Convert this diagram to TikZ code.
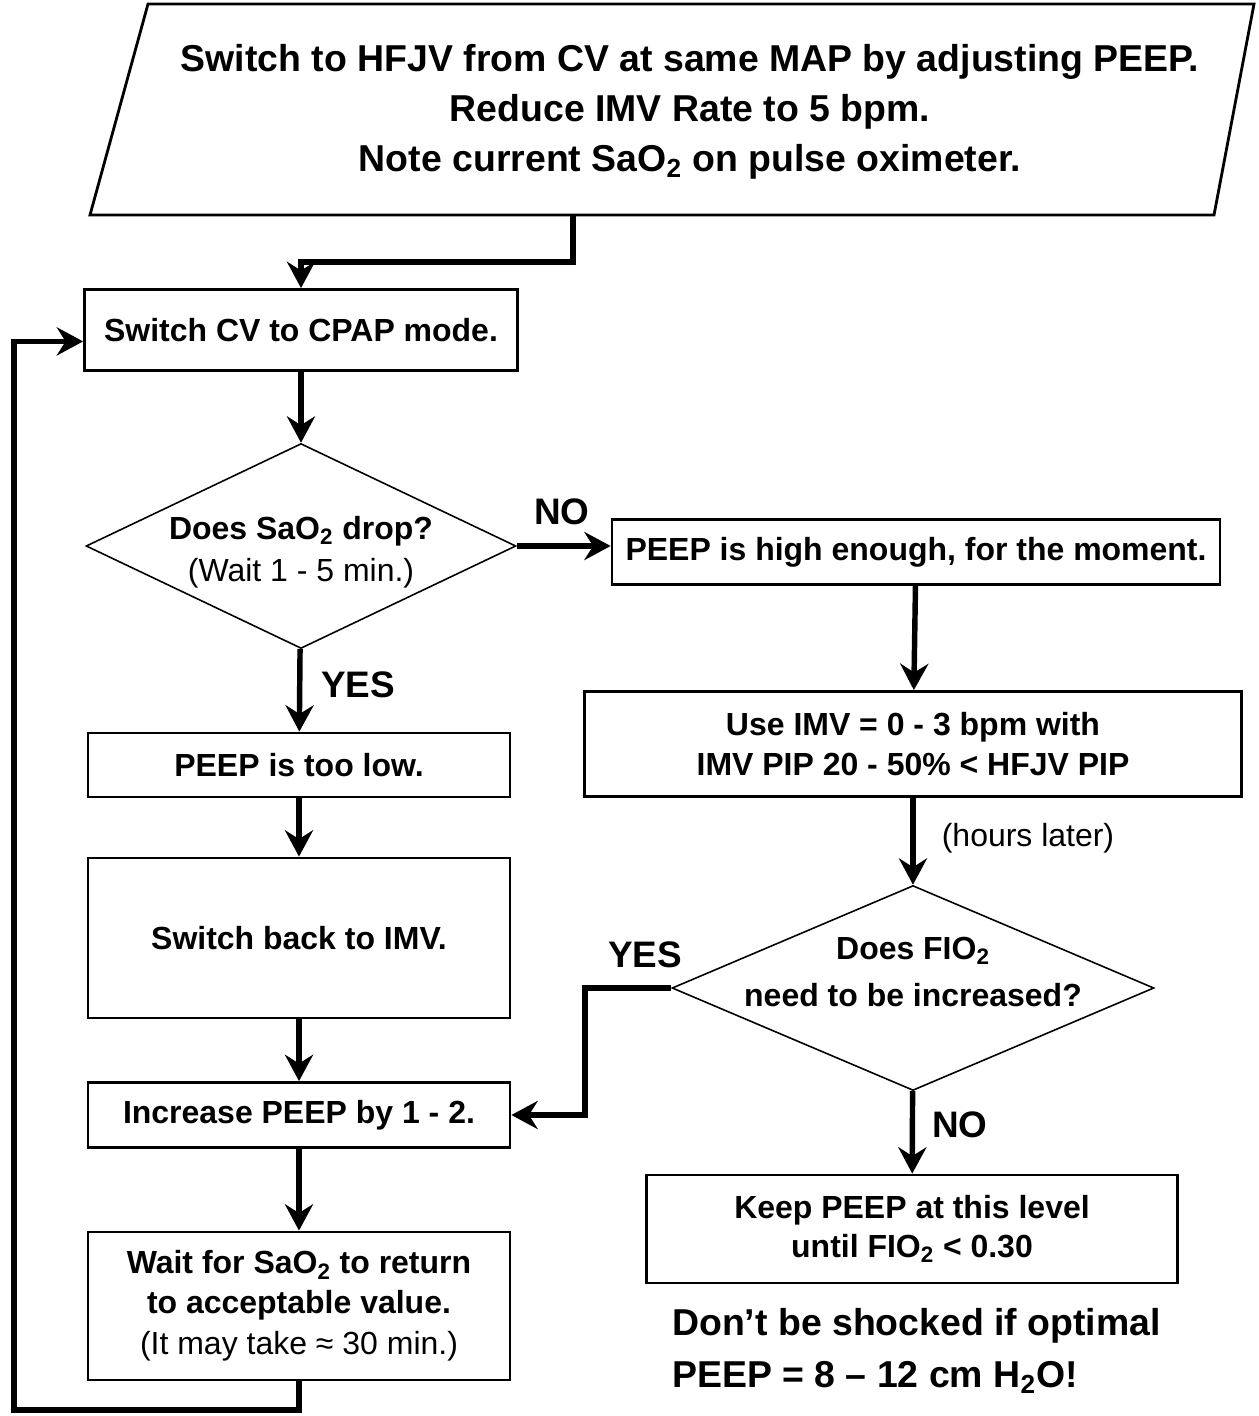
\documentclass[tikz,border=0pt]{standalone}
\usepackage{fontspec}
\setmainfont{Liberation Sans}
\usetikzlibrary{shapes.geometric,arrows.meta}

\begin{document}
\begin{tikzpicture}[x=0.02cm, y=-0.02cm,
  box/.style={draw, line width=1.6pt, align=center, inner sep=0pt,
    font=\bfseries\fontsize{18.2}{22.5}\selectfont},
  decision/.style={draw, diamond, line width=0.9pt, inner sep=0pt},
  flow/.style={line width=3.1pt, -{Stealth[length=15pt,width=16pt,inset=5pt]}},
  answer/.style={font=\bfseries\fontsize{21}{24}\selectfont}]
\useasboundingbox (0,0) rectangle (1258,1416);

% Start parallelogram
\draw[line width=1.6pt] (148,4) -- (1254,4) -- (1214,215) -- (90,215) -- cycle;
\node (start) at (690,112) [align=center, font=\bfseries\fontsize{21.3}{28.5}\selectfont]
  {Switch to HFJV from CV at same MAP by adjusting PEEP.\\
   Reduce IMV Rate to 5 bpm.\\
   Note current SaO\textsubscript{2} on pulse oximeter.};
\coordinate (startout) at (573,215);
\coordinate (bend) at (573,262);

% Left column
\node[box, minimum width=8.66cm, minimum height=1.62cm] (cpap) at (301,330) {Switch CV to CPAP mode.};
\node[decision, minimum width=8.6cm, minimum height=4.1cm] (drop) at (301,546) {};
\node[align=center, font=\fontsize{18.2}{24}\selectfont] (droptext) at (301,552)
  {\textbf{Does SaO\textsubscript{2} drop?}\\(Wait 1 - 5 min.)};
\node[box, minimum width=8.44cm, minimum height=1.28cm] (low) at (299,765) {PEEP is too low.};
\node[box, minimum width=8.44cm, minimum height=3.2cm] (back) at (299,938) {Switch back to IMV.};
\node[box, minimum width=8.44cm, minimum height=1.3cm] (incr) at (299,1115) {Increase PEEP by 1 - 2.};
\node[box, minimum width=8.44cm, minimum height=2.96cm] (wait) at (299,1306)
  {Wait for SaO\textsubscript{2} to return\\to acceptable value.\\[1pt]
   \mdseries(It may take ≈ 30 min.)};
\coordinate (loop) at (14,1410);

% Right column
\node[box, minimum width=12.16cm, minimum height=1.3cm] (high) at (916,552) {PEEP is high enough, for the moment.};
\node[box, minimum width=13.14cm, minimum height=2.1cm] (imv) at (913,744)
  {Use IMV = 0 - 3 bpm with\\IMV PIP 20 - 50\% < HFJV PIP};
\node[decision, minimum width=9.64cm, minimum height=4.1cm] (fio) at (913,988) {};
\node[align=center, font=\bfseries\fontsize{18.2}{27}\selectfont] (fiotext) at (913,972)
  {Does FIO\textsubscript{2}\\need to be increased?};
\node[box, minimum width=10.62cm, minimum height=2.16cm] (keep) at (912,1229)
  {Keep PEEP at this level\\until FIO\textsubscript{2} < 0.30};
\coordinate (yesbend) at (585,988);

% Connectors
\draw[flow] (startout) -- (bend) -| (cpap.north);
\draw[flow] (cpap) -- (drop);
\draw[flow] (drop) -- (low);
\draw[flow] (low) -- (back);
\draw[flow] (back) -- (incr);
\draw[flow] (incr) -- (wait);
\draw[flow] (wait.south) |- (loop) |- (cpap.183);
\draw[flow] (drop.east) -- (high.west |- drop.east);
\draw[flow] (high) -- (imv);
\draw[flow] (imv) -- (fio);
\draw[flow] (fio) -- (keep);
\draw[flow] (fio.west) -- (yesbend) |- (incr.east);

% Labels
\node[answer] (no1) at (562,512) {NO};
\node[answer] (yes1) at (358,685) {YES};
\node[answer] (yes2) at (645,955) {YES};
\node[answer] (no2) at (960,1125) {NO};
\node[font=\fontsize{18.2}{20}\selectfont] (later) at (1028,838) {(hours later)};
\node[anchor=west, align=left, font=\bfseries\fontsize{21.3}{29.5}\selectfont] (note) at (666,1351)
  {Don’t be shocked if optimal\\PEEP = 8 – 12 cm H\textsubscript{2}O!};

\end{tikzpicture}
\end{document}
